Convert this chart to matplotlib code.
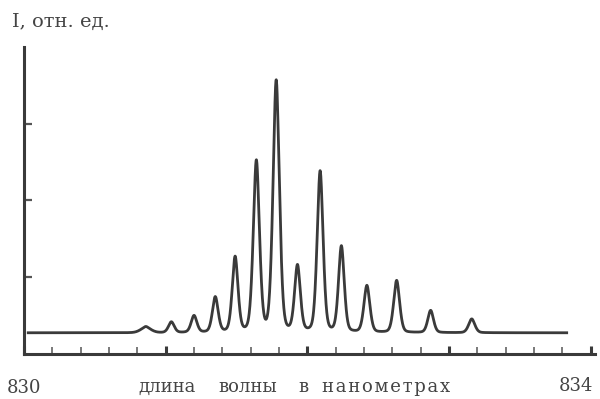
import matplotlib
matplotlib.use("Agg")
import matplotlib.pyplot as plt
import numpy as np

# peaks (wavelength nm, relative intensity)
peak_nm = [830.86, 831.04, 831.20, 831.35, 831.49, 831.64, 831.78,
           831.93, 832.09, 832.24, 832.42, 832.63, 832.87, 833.16]
peak_I = [0.35, 0.41, 0.49, 0.73, 1.25, 2.50, 3.55,
          1.13, 2.37, 1.39, 0.88, 0.95, 0.56, 0.45]
peak_w = [0.038, 0.021, 0.021, 0.021, 0.021, 0.023, 0.024,
          0.021, 0.022, 0.021, 0.022, 0.022, 0.021, 0.023]
base_I = 0.27
span = (830.02, 833.84)

# axis caption words and where they sit (px centre)
words = ["длина", "волны", "в", "\u200a".join("нанометрах")]
word_x = [167, 248, 303, 386]

ink = "#3a3a3a"
txt = "#444444"
serif = ["DejaVu Serif"]

wl = np.linspace(span[0], span[1], 3000)
I = np.full_like(wl, base_I)
for c, h, w in zip(peak_nm, peak_I, peak_w):
    d = wl - c
    # gaussian core with a little lorentzian wing
    I += (h - base_I) * (0.7 * np.exp(-0.5 * (d / w) ** 2) + 0.3 * 0.02 ** 2 / (d ** 2 + 0.02 ** 2))

fig = plt.figure(figsize=(6, 3.99), dpi=100)
ax = fig.add_axes([24 / 600, 45.5 / 399, 571 / 600, 306.5 / 399])
ax.plot(wl, I, color=ink, lw=2.0, solid_capstyle="butt")

ax.set_xlim(830, 834.03)
ax.set_ylim(0, 4)
for s in ["top", "right"]:
    ax.spines[s].set_visible(False)
for s in ["left", "bottom"]:
    ax.spines[s].set_linewidth(2.2)
    ax.spines[s].set_color(ink)

ax.set_xticks(np.arange(830, 834.01, 1.0))
ax.set_xticks(np.arange(830, 834.01, 0.2), minor=True)
ax.set_yticks([1, 2, 3])
ax.tick_params(axis="x", which="major", direction="in", length=6, width=2.2, color=ink, labelbottom=False)
ax.tick_params(axis="x", which="minor", direction="in", length=5, width=1.1, color="#555555")
ax.tick_params(axis="y", direction="in", length=6, width=1.6, color="#555555", labelleft=False)

def px(x, y):
    return x / 600, 1 - y / 399

fig.text(*px(12, 27), "I, отн. ед.", family=serif, fontsize=14, color=txt, ha="left", va="baseline")
fig.text(*px(24, 393), "830", family=serif, fontsize=13, color=txt, ha="center", va="baseline")
fig.text(*px(576, 391), "834", family=serif, fontsize=13, color=txt, ha="center", va="baseline")
for wd, x in zip(words, word_x):
    fig.text(*px(x, 392), wd, family=serif, fontsize=13, color=txt, ha="center", va="baseline")

fig.savefig("out.png", dpi=100, facecolor="white")
